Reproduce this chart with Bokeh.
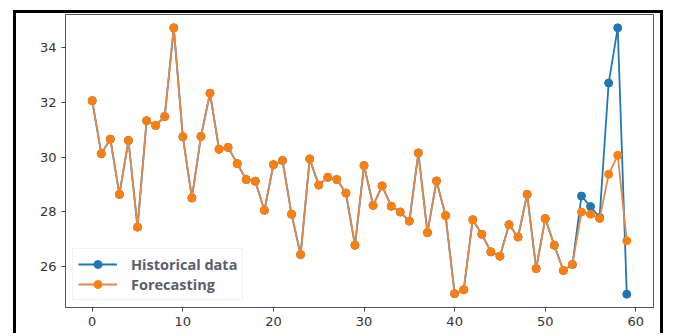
from bokeh.plotting import figure
from bokeh.models import Range1d, FixedTicker, Legend, LegendItem, InlineStyleSheet
from bokeh.embed import file_html
from bokeh.resources import INLINE

idx = list(range(60))
forecasting = [32.05, 30.12, 30.65, 28.64, 30.6, 27.45, 31.32, 31.15, 31.47, 34.7,
               30.74, 28.51, 30.75, 32.32, 30.28, 30.35, 29.76, 29.18, 29.12, 28.06,
               29.72, 29.87, 27.92, 26.45, 29.93, 28.98, 29.26, 29.18, 28.69, 26.79,
               29.69, 28.24, 28.95, 28.21, 28.0, 27.67, 30.15, 27.25, 29.13, 27.87,
               25.03, 25.17, 27.72, 27.19, 26.55, 26.39, 27.54, 27.09, 28.64, 25.94,
               27.76, 26.79, 25.87, 26.09, 28.0, 27.92, 27.76, 29.37, 30.06, 26.95]
historical = forecasting[:54] + [28.58, 28.2, 27.8, 32.69, 34.7, 25.01]
x_ticks = [0, 10, 20, 30, 40, 50, 60]
y_ticks = [26, 28, 30, 32, 34]
labels = ["Historical data", "Forecasting"]

allv = forecasting + historical
lo, hi = min(allv), max(allv)
pad = 0.05 * (hi - lo)
xpad = 0.05 * (idx[-1] - idx[0])

p = figure(width=650, height=323, output_backend="svg", toolbar_location=None,
           x_range=Range1d(idx[0] - xpad, idx[-1] + xpad),
           y_range=Range1d(lo - pad, hi + pad),
           min_border_left=49, min_border_right=13, min_border_top=1, min_border_bottom=29)
p.stylesheets = [InlineStyleSheet(css=":host { margin-left: 13px; margin-top: 10px; "
                                      "border: 3px solid black; border-bottom: none; }")]
p.background_fill_color = "white"
p.border_fill_color = "white"
p.outline_line_color = "#555555"
p.outline_line_width = 1
p.grid.visible = False

for ax in (p.xaxis[0], p.yaxis[0]):
    ax.axis_line_color = "#555555"
    ax.major_tick_line_color = "#444444"
    ax.major_tick_in = 0
    ax.major_tick_out = 4
    ax.minor_tick_line_color = None
    ax.major_label_text_font = "DejaVu Sans"
    ax.major_label_text_font_size = "13px"
    ax.major_label_text_color = "#333333"
    ax.major_label_standoff = 5
p.xaxis.ticker = FixedTicker(ticks=x_ticks)
p.yaxis.ticker = FixedTicker(ticks=y_ticks)

blue = "#1f77b4"
orange = "#ff7f0e"
l1 = p.line(idx, historical, line_color=blue, line_width=1.8)
s1 = p.scatter(idx, historical, size=8, fill_color=blue, line_color=blue)
l2 = p.line(idx, forecasting, line_color="#e0894a", line_width=1.8)
s2 = p.scatter(idx, forecasting, size=8, fill_color=orange, line_color=orange)

legend = Legend(items=[LegendItem(label=labels[0], renderers=[l1, s1]),
                       LegendItem(label=labels[1], renderers=[l2, s2])],
                location=(7, 7))
legend.label_text_font = "Open Sans"
legend.label_text_font_style = "bold"
legend.label_text_font_size = "14.5px"
legend.label_text_color = "#5a5d6e"
legend.glyph_width = 39
legend.glyph_height = 20
legend.label_height = 20
legend.label_standoff = 14
legend.spacing = 0
legend.padding = 5
legend.margin = 0
legend.border_line_color = "#e4e4e4"
legend.background_fill_alpha = 0.8
p.add_layout(legend, "center")

open("out.html", "w").write(file_html(p, INLINE))
